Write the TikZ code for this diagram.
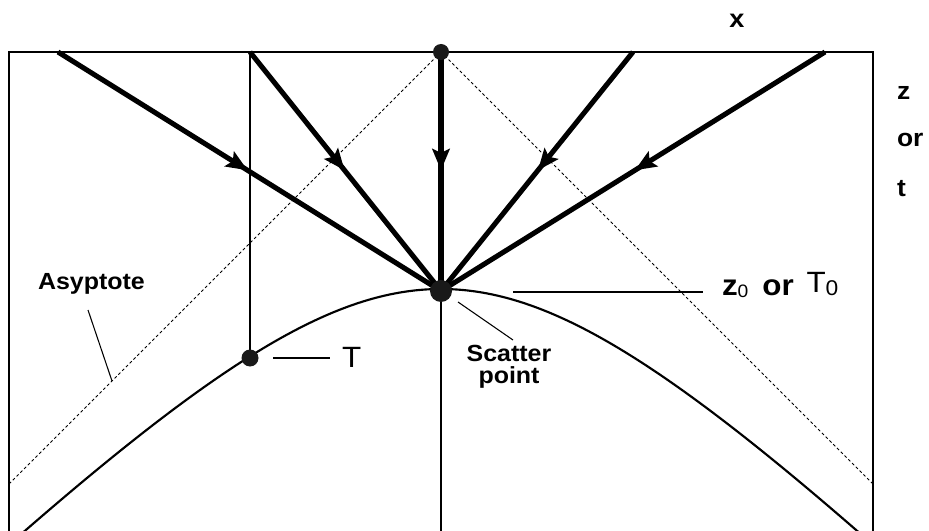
\documentclass[tikz,border=0pt]{standalone}
\usepackage{fontspec}
\setmainfont{Liberation Sans}[FakeStretch=1.07]
\usetikzlibrary{arrows.meta,decorations.markings}
\begin{document}
\begin{tikzpicture}[x=0.75pt,y=-0.75pt,
  frame/.style={line width=1.1pt},
  thinline/.style={line width=0.8pt},
  ray/.style={line width=3.8pt,
    postaction={decorate,decoration={markings,
      mark=at position 0.495 with {\arrow{Stealth[length=16pt,width=13pt,inset=3pt]}}}}},
  asym/.style={line width=0.6pt,dash pattern=on 2.2pt off 1.8pt},
  curveline/.style={line width=1.6pt},
  dot/.style={circle,fill=black!90,inner sep=0pt},
  lbl/.style={inner sep=0pt,outer sep=0pt},
  boldlbl/.style={lbl,font=\fontsize{17.5}{17}\selectfont\bfseries},
  axlbl/.style={lbl,anchor=base west,font=\fontsize{18.5}{18.5}\selectfont\bfseries},
  ]
\useasboundingbox (0,0) rectangle (929,531);
% frame (open at bottom)
\coordinate (bl) at (9,531);
\coordinate (tl) at (9,52);
\coordinate (tr) at (873,52);
\coordinate (br) at (873,531);
\draw[frame] (bl) -- (tl) -- (tr) -- (br);
% key points
\coordinate (apexc) at (441,52);
\coordinate (spc) at (441,291);
\coordinate (tdc) at (250,358);
\coordinate (r1) at (58,52);
\coordinate (r2) at (250,52);
\coordinate (r4) at (633,52);
\coordinate (r5) at (825,52);
\coordinate (aL) at (9,484);
\coordinate (aR) at (873,484);
\coordinate (vb) at (441,531);
% asymptotes
\draw[asym] (apexc) -- (aL);
\draw[asym] (apexc) -- (aR);
% hyperbola
\draw[curveline] plot[domain=-418:418,samples=90,smooth] ({441+\x},{52+237*sqrt(1+(\x/237)^2)});
% verticals
\draw[thinline] (r2) -- (tdc);
\draw[line width=1.1pt] (spc) -- (vb);
% rays
\draw[ray] (r1) -- (spc);
\draw[ray] (r2) -- (spc);
\draw[ray] (apexc) -- (spc);
\draw[ray] (r4) -- (spc);
\draw[ray] (r5) -- (spc);
% dots
\node[dot,minimum size=16pt*0.75] (apex) at (apexc) {};
\node[dot,minimum size=22pt*0.75] (sp) at (spc) {};
\node[dot,minimum size=17pt*0.75] (td) at (tdc) {};
% labels
\node[lbl,anchor=base,font=\fontsize{19}{19}\selectfont\bfseries] (xl) at (737,28) {x};
\node[axlbl] (zl) at (897,100) {z};
\node[axlbl] (orl) at (897,147) {or};
\node[axlbl] (tl2) at (897,197) {t};
\node[boldlbl,anchor=base west] (asy) at (38,290) {Asyptote};
\node[boldlbl,anchor=north,align=center] (scl) at (509,345) {Scatter\\point};
\node[lbl,anchor=base west,font=\fontsize{22}{22}\selectfont] (tlab) at (342,368) {T};
\node[lbl,anchor=base west,font=\fontsize{22}{22}\selectfont] (z0l) at (722,296)
  {\textbf{z}\raisebox{-1.2pt}{\fontsize{13.5}{13.5}\selectfont 0}\hspace{4pt} \textbf{or}\hspace{3pt} \raisebox{2.3pt}{T}\raisebox{0.6pt}{\fontsize{16}{16}\selectfont 0}};
% leader lines
\coordinate (asyE) at (112,381);
\coordinate (asyS) at (88,310);
\draw[thinline] (asyS) -- (asyE);
\coordinate (tS) at (273,358);
\coordinate (tE) at (330,358);
\draw[thinline] (tS) -- (tE);
\coordinate (zS) at (513,292);
\coordinate (zE) at (703,292);
\draw[thinline] (zS) -- (zE);
\coordinate (sS) at (458,302);
\coordinate (sE) at (513,340);
\draw[thinline] (sS) -- (sE);
\end{tikzpicture}
\end{document}
